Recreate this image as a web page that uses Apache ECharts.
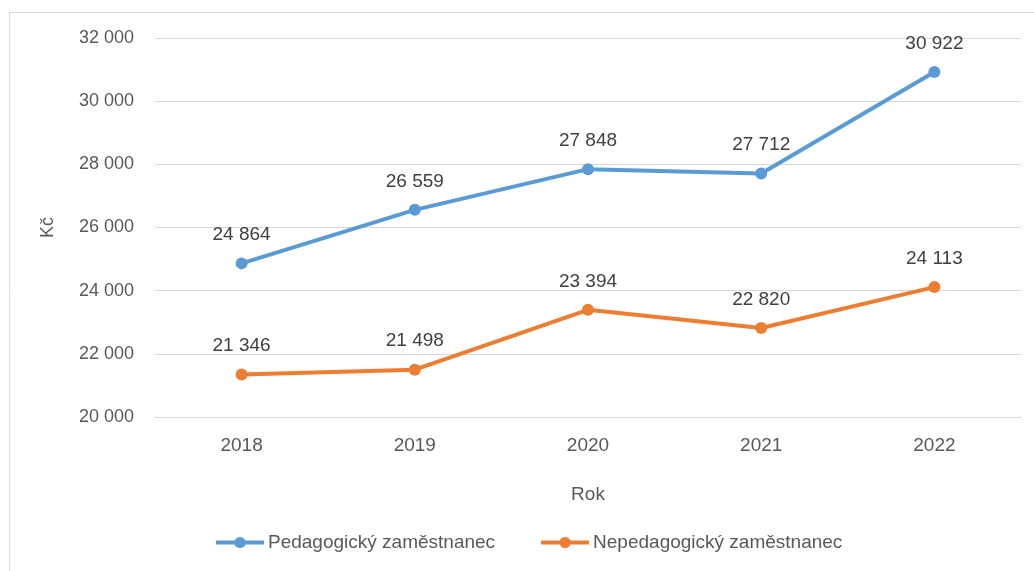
<!DOCTYPE html>
<html>
<head>
    <meta charset="utf-8">
    <title>Kč</title>
    <script src="https://cdn.jsdelivr.net/npm/echarts@6/dist/echarts.min.js"></script>
    <style>
        html, body { margin: 0; padding: 0; background: #fff; }
        #chart { width: 1034px; height: 571px; }
    </style>
</head>
<body>
<div id="chart"></div>
<script>
    var years = ['2018', '2019', '2020', '2021', '2022'];
    var pedagogicky = [24864, 26559, 27848, 27712, 30922];
    var nepedagogicky = [21346, 21498, 23394, 22820, 24113];
    var seriesNames = ['Pedagogický zaměstnanec', 'Nepedagogický zaměstnanec'];

    var font = '"Liberation Sans", "Noto Sans", sans-serif';

    // mezera jako oddělovač tisíců
    function fmt(v) {
        return String(v).replace(/\B(?=(\d{3})+(?!\d))/g, ' ');
    }

    var chart = echarts.init(document.getElementById('chart'));

    function lineSeries(name, data, color) {
        return {
            name: name,
            type: 'line',
            data: data,
            symbol: 'circle',
            symbolSize: 12,
            lineStyle: { width: 4, color: color },
            itemStyle: { color: color },
            label: {
                show: true,
                position: 'top',
                distance: 13,
                color: '#404040',
                fontSize: 19,
                fontFamily: font,
                formatter: function (p) { return fmt(p.value); }
            }
        };
    }

    var option = {
        animation: false,
        backgroundColor: '#fff',
        graphic: [{
            type: 'rect',
            shape: { x: 9.5, y: 12.5, width: 1100, height: 700 },
            style: { fill: 'none', stroke: '#d9d9d9', lineWidth: 1 },
            silent: true
        }],
        grid: { left: 155, right: 13, top: 38, bottom: 154 },
        legend: {
            top: 528,
            left: 209,
            itemWidth: 48,
            itemHeight: 14,
            itemGap: 44,
            lineStyle: { width: 4 },
            textStyle: { color: '#595959', fontSize: 19, fontFamily: font, padding: [0, 0, 0, -1] },
            data: seriesNames
        },
        xAxis: {
            type: 'category',
            data: years,
            name: 'Rok',
            nameLocation: 'middle',
            nameGap: 68,
            nameTextStyle: { color: '#595959', fontSize: 19, fontFamily: font },
            axisLine: { lineStyle: { color: '#d9d9d9' } },
            axisTick: { show: false },
            axisLabel: { color: '#595959', fontSize: 19, fontFamily: font, margin: 19 }
        },
        yAxis: {
            type: 'value',
            min: 20000,
            max: 32000,
            interval: 2000,
            name: 'Kč',
            nameLocation: 'middle',
            nameGap: 98,
            nameRotate: 90,
            nameTextStyle: { color: '#595959', fontSize: 18, fontFamily: font },
            axisLine: { show: false },
            axisTick: { show: false },
            splitLine: { lineStyle: { color: '#d9d9d9' } },
            axisLabel: {
                color: '#595959', fontSize: 18, fontFamily: font, margin: 21,
                formatter: function (v) { return fmt(v); }
            }
        },
        series: [
            lineSeries(seriesNames[0], pedagogicky, '#5b9bd5'),
            lineSeries(seriesNames[1], nepedagogicky, '#ed7d31')
        ]
    };

    chart.setOption(option);
</script>
</body>
</html>
